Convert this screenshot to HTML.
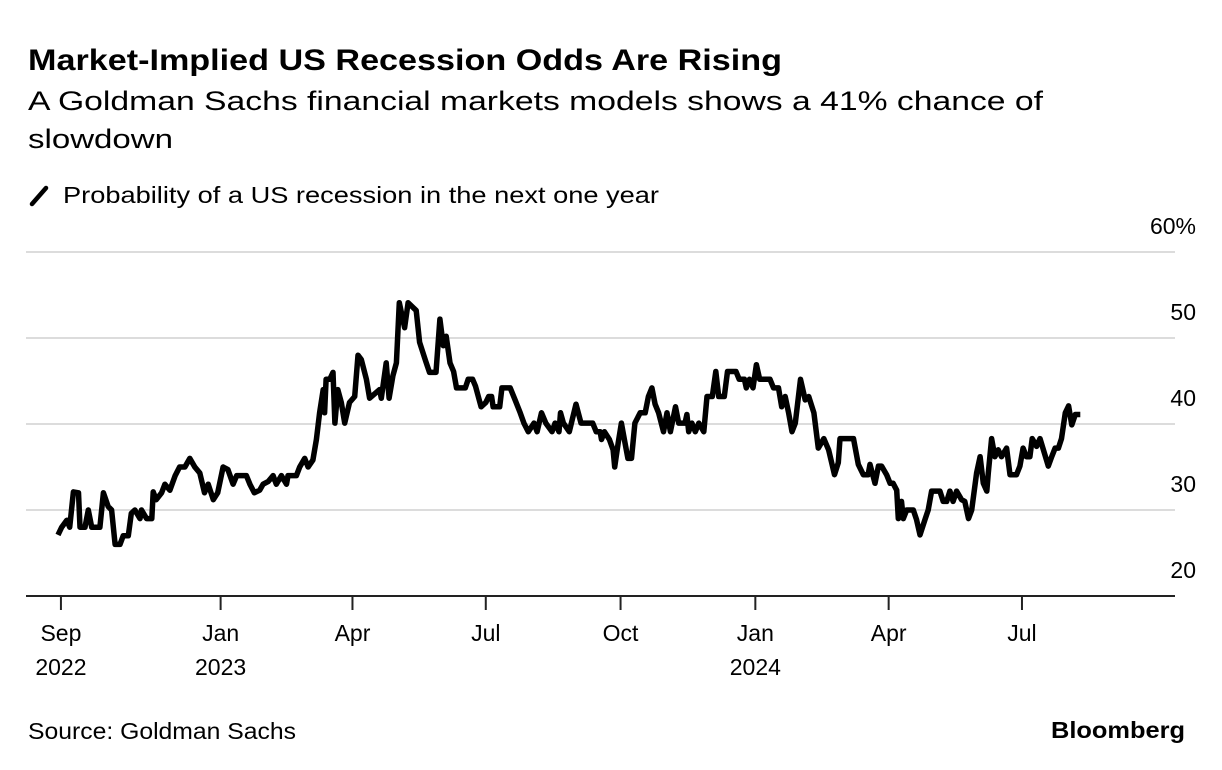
<!DOCTYPE html>
<html><head><meta charset="utf-8"><style>
html,body{margin:0;padding:0;background:#fff;}
svg{display:block;font-family:"Liberation Sans",Arial,sans-serif;}
</style></head><body>
<svg id="chart" width="1222" height="770" viewBox="0 0 1222 770" xmlns="http://www.w3.org/2000/svg">
<text x="28" y="70" font-size="30" font-weight="bold" fill="#000" textLength="754" lengthAdjust="spacingAndGlyphs">Market-Implied US Recession Odds Are Rising</text>
<text x="28" y="110" font-size="27" fill="#000" textLength="1015" lengthAdjust="spacingAndGlyphs">A Goldman Sachs financial markets models shows a 41% chance of</text>
<text x="28" y="148" font-size="27" fill="#000" textLength="145" lengthAdjust="spacingAndGlyphs">slowdown</text>
<line x1="32" y1="204" x2="46" y2="188" stroke="#000" stroke-width="4.5" stroke-linecap="round"/>
<text x="63" y="203" font-size="23" fill="#000" textLength="596" lengthAdjust="spacingAndGlyphs">Probability of a US recession in the next one year</text>
<g id="grid"></g>
<g id="yLabels"></g>
<g id="xAxis"></g>
<path id="line" fill="none" stroke="#000" stroke-width="5.5" stroke-linejoin="round"/>
<text x="28" y="739" font-size="23" fill="#000" textLength="268" lengthAdjust="spacingAndGlyphs">Source: Goldman Sachs</text>
<text x="1185" y="738" font-size="23" font-weight="bold" fill="#000" text-anchor="end" textLength="134" lengthAdjust="spacingAndGlyphs">Bloomberg</text>
</svg>
<script>
const startDate = "2022-09-12";
const days = [0,2.5,6,8,10.5,14,15,18.4,20.7,23,26.4,28.6,31,34.3,36.6,39,42.3,44.5,48,50,52.5,56,57,60.5,64,65,67,70.7,73,76.4,80,83,86.6,90,93.4,96.8,100,102.5,106,109,112.7,116,119.5,122,128.6,131,134,137.7,140,143.4,146.8,149,152.5,156,157,162.7,165,168.4,170.7,174,176.4,178.6,181,182,183,185.5,187.7,189,191,193.4,195.7,199,202.5,204.8,207,210.5,212.7,219.5,220.7,224,226,228.6,231,233,236.6,239,244.5,246.8,251,253.6,258,260.7,263,265,267.6,270,272,278,280,283,285,288.8,292,294,296,297,301.5,303,308.7,312,315.5,318,321,324.9,327,330,333,337.2,339.3,342,343,345,349,353.6,357,365,367.4,370,371,373,376.4,378.9,380,382.4,384.6,387,389,391.5,393.8,397.4,400.8,403,405.4,407.6,410,413.3,415.7,418,421.5,423.7,428,429.3,430.5,432.7,435,437.4,440.8,443,446.6,449,451,454.8,457,462.8,465,468.5,469.8,472,474.4,476.7,479,486,488.4,491.8,494,496.4,498.7,501,503.3,506.8,510,512.4,516,519,522.7,526,530,532.6,533.8,543,546.3,549.7,553,554.3,557.7,560,562.2,565.6,568,570,572.5,573.6,575.8,577,579.3,583.8,586,588.4,591.8,594,596.3,602,604.2,606.6,608.8,611,613.4,616.8,619,621.5,623.7,627,629.4,631.6,634,635,637.3,639.5,641.8,644,647.5,649.8,654.3,656.6,658.8,661,663.4,665,668,670.3,672.6,676,678.3,680.6,682.9,685,687.6,689.8,692,694.4,697.8];
const values = [27.1,28,28.8,28,32.1,32,28,28,30,28,28,28,32,30.4,30,26,26,27,27,29.6,30,29,30,29,29,32.1,31.2,32,33,32.3,34,35,35,36,35,34.3,32,33,31.2,32,35,34.7,33,34,34,33,32,32.3,33,33.3,34,33,34,33,34,34,35,36,35,35.8,38.2,41.3,44,41.3,45.2,45.2,46,40.1,44,42.5,40.1,42.5,43.2,48,47.5,45.2,43,44,43,47.1,43,45.6,47.1,54.1,51.2,54.1,53.2,49.5,47.3,46,46,52.2,49.1,50.2,47.1,46.1,44.2,44.2,45.2,45.2,44.4,42,42.5,43.2,43.2,42,42,44.2,44.2,42.8,41.3,40.1,39.1,40.1,39.1,41.3,40.1,39.1,40.1,39.1,41.3,40.1,39.1,42.3,40.1,40.1,39.1,39.1,38.2,39.1,38.2,37,35,37.8,40.1,37.8,36,36,40.1,41.3,41.3,43.2,44.2,42.3,41.3,39.1,41.3,39.1,42,40.1,40.1,41.1,39.1,40.1,39.1,40.1,39.1,43.2,43.2,46.1,43.2,43.2,46.1,46.1,45.2,45.2,44.2,45.2,44.2,46.9,45.2,45.2,44.2,44.2,42,43.2,41.3,39.1,40.1,45.2,42.8,43.2,41.3,37.2,38.3,37,34.1,35.5,38.3,38.3,35.3,34.1,34.1,35.3,33.1,35.1,35.1,34.1,33.1,33.1,32.3,29,31,29,30,30,28.9,27.1,28.9,30,32.2,32.2,31,31,32.2,31,32.2,31.2,31,29,30,34.3,36.2,33.1,32.2,34.3,38.3,36.2,37,36.2,37.2,34.1,34.1,35.1,37.2,36.2,36.2,38.3,37.4,38.3,37,35.1,36.2,37.2,37.2,38.3,41.3,42.1,39.9,41.1,41.1];
const yTicks = [20,30,40,50,60];
const yTickLabels = ["20","30","40","50","60%"];
const xTickDates = ["2022-09-14","2023-01-01","2023-04-01","2023-07-01","2023-10-01","2024-01-01","2024-04-01","2024-07-01"];
const xTickLine1 = ["Sep","Jan","Apr","Jul","Oct","Jan","Apr","Jul"];
const xTickLine2 = ["2022","2023","","","","2024","",""];

const NS = "http://www.w3.org/2000/svg";
const X0 = 58, PX_PER_DAY = 1.465, Y0 = 596, PX_PER_UNIT = 8.6;
const t0 = Date.parse(startDate + "T00:00:00Z");
function dayOf(s){ return (Date.parse(s + "T00:00:00Z") - t0) / 86400000; }
function xScale(d){ return X0 + d * PX_PER_DAY; }
function yScale(v){ return Y0 - (v - 20) * PX_PER_UNIT; }
function mk(tag, attrs){ const e = document.createElementNS(NS, tag); for (const k in attrs) e.setAttribute(k, attrs[k]); return e; }

const grid = document.getElementById('grid');
const yl = document.getElementById('yLabels');
yTicks.forEach((v, i) => {
  if (v > 20) {
    const g = mk('line', {x1: 26, x2: 1175, y1: yScale(v), y2: yScale(v), stroke: '#dcdcdc', 'stroke-width': 2});
    
    
    grid.appendChild(g);
  }
  const t = mk('text', {x: 1196, y: yScale(v) - 18, 'font-size': 23, 'text-anchor': 'end', fill: '#000'});
  
  
  t.textContent = yTickLabels[i];
  yl.appendChild(t);
});

const xa = document.getElementById('xAxis');
const base = mk('line', {x1: 26, x2: 1175, y1: Y0, y2: Y0, stroke: '#222', 'stroke-width': 2});


xa.appendChild(base);
xTickDates.forEach((d, i) => {
  const x = xScale(dayOf(d));
  const tk = mk('line', {x1: x, x2: x, y1: Y0, y2: 610, stroke: '#222', 'stroke-width': 2});
  
  
  xa.appendChild(tk);
  const t1 = mk('text', {x: x, y: 641, 'font-size': 23, 'text-anchor': 'middle', fill: '#000'});
  
  
  t1.textContent = xTickLine1[i];
  xa.appendChild(t1);
  if (xTickLine2[i]) {
    const t2 = mk('text', {x: x, y: 675, 'font-size': 23, 'text-anchor': 'middle', fill: '#000'});
    
    
    t2.textContent = xTickLine2[i];
    xa.appendChild(t2);
  }
});

let dStr = "";
days.forEach((d, i) => { dStr += (i ? "L" : "M") + xScale(d).toFixed(1) + "," + yScale(values[i]).toFixed(1); });
document.getElementById('line').setAttribute('d', dStr);
</script>
</body></html>
